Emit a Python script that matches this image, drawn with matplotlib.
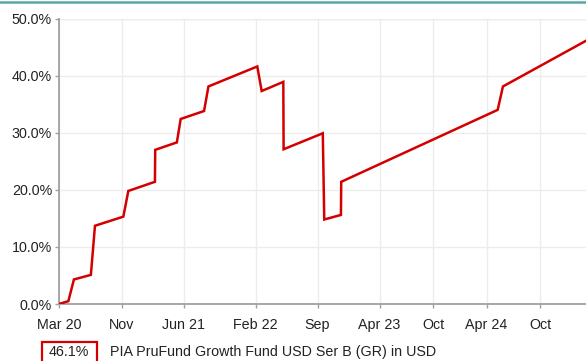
import matplotlib.pyplot as plt
import matplotlib.dates as mdates
import matplotlib.patches as mpatches
from matplotlib.lines import Line2D
import pandas as pd

plt.rcParams['font.family'] = ['Liberation Sans', 'DejaVu Sans']

# cumulative return (%) of the fund, smoothed price with periodic adjustments
dates = ['2020-03-31', '2020-05-02', '2020-05-21', '2020-07-18', '2020-08-01',
         '2020-11-06', '2020-11-23', '2021-02-22', '2021-02-23', '2021-05-08',
         '2021-05-21', '2021-08-09', '2021-08-24', '2022-02-07', '2022-02-22',
         '2022-05-07', '2022-05-08', '2022-09-19', '2022-09-20', '2022-09-24',
         '2022-11-20', '2022-11-21', '2024-05-09', '2024-05-27', '2025-03-07']
returns = [0.0, 0.5, 4.3, 5.1, 13.7,
           15.3, 19.8, 21.4, 27.0, 28.3,
           32.4, 33.8, 38.1, 41.6, 37.3,
           38.9, 27.1, 29.9, 26.9, 14.8,
           15.6, 21.4, 34.0, 38.1, 46.1]

tick_dates = ['2020-03-31', '2020-11-01', '2021-06-01', '2022-02-01', '2022-09-01',
              '2023-04-01', '2023-10-01', '2024-04-01', '2024-10-01']
tick_labels = ['Mar 20', 'Nov', 'Jun 21', 'Feb 22', 'Sep',
               'Apr 23', 'Oct', 'Apr 24', 'Oct']
y_ticks = [0, 10, 20, 30, 40, 50]

fund_name = 'PIA PruFund Growth Fund USD Ser B (GR) in USD'
red = '#d40000'
axis_grey = '#a0a0a0'
fs = 10.3

x = pd.to_datetime(dates)

fig = plt.figure(figsize=(5.86, 3.61), dpi=100)
ax = fig.add_axes([59 / 586, 57 / 361, 527 / 586, 285.5 / 361])

ax.plot(x, returns, color=red, lw=1.8, solid_joinstyle='miter', zorder=3)

ax.set_xlim(x[0], x[-1])
ax.set_ylim(0, 50)
ax.set_yticks(y_ticks)
ax.set_yticklabels([f'{v:.1f}%' for v in y_ticks])
ax.set_xticks(mdates.date2num(pd.to_datetime(tick_dates)))
ax.set_xticklabels(tick_labels)

ax.grid(True, color='#ececec', lw=1)
for side in ('top', 'right'):
    ax.spines[side].set_visible(False)
for side in ('left', 'bottom'):
    ax.spines[side].set_color(axis_grey)
    ax.spines[side].set_linewidth(1.3)
ax.axhline(50, color='#dadada', lw=1.6, zorder=1)

ax.tick_params(axis='both', colors=axis_grey, length=3, width=1,
               labelcolor='#222222', labelsize=fs)
ax.tick_params(axis='y', pad=2)
ax.tick_params(axis='x', pad=7)

# teal rule along the top edge
fig.add_artist(Line2D([0, 1], [1 - 1.5 / 361] * 2, transform=fig.transFigure,
                      color='#5aa6a6', lw=1.8))

# legend: boxed latest value followed by the fund name
fig.add_artist(mpatches.Rectangle((41.5 / 586, -0.05), 55 / 586, 19 / 361 + 0.05,
                                  transform=fig.transFigure, fill=False,
                                  edgecolor=red, lw=1.6))
fig.text(69 / 586, 9 / 361, '46.1%', ha='center', va='center',
         fontsize=fs, color='#222222')
fig.text(110 / 586, 9 / 361, fund_name, ha='left', va='center',
         fontsize=fs, color='#222222')

fig.savefig('out.png', dpi=100)
